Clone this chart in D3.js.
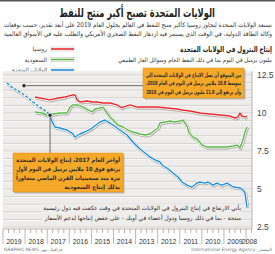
<!DOCTYPE html>
<html>
<head>
<meta charset="utf-8">
<script src="https://cdn.jsdelivr.net/npm/d3@7"></script>
<style>
  body { margin: 0; background: #fff; }
  svg { display: block; font-family: "DejaVu Sans", sans-serif; }
  .rtl { direction: rtl; }
  .num { font-family: "Liberation Sans", Arial, sans-serif; }
</style>
</head>
<body>
<div id="chart"></div>
<script>
const width = 275;
const height = 254;

// years on the axis (time runs right to left)
const years = [2019, 2018, 2017, 2016, 2015, 2014, 2013, 2012, 2011, 2010, 2009, 2008];
const yTicks = [2.5, 5, 7.5, 10, 12.5];

// US production, forecast part (dashed) and actual part, million barrels a day
const usForecastDates = [2019.82, 2019.55, 2019.23, 2018.91, 2018.64, 2018.33, 2018.01, 2017.87];
const usForecast = [11.97, 11.64, 11.38, 11.05, 10.72, 10.39, 10.07, 9.85];
const usDates = [2017.87, 2017.78, 2017.65, 2017.42, 2017.10, 2016.88, 2016.74, 2016.52, 2016.29, 2015.97,
  2015.61, 2015.38, 2015.25, 2015.02, 2014.71, 2014.39, 2014.12, 2013.80, 2013.57, 2013.35, 2013.12,
  2012.90, 2012.81, 2012.58, 2012.31, 2012.08, 2011.90, 2011.67, 2011.45, 2011.22, 2011.09, 2010.86,
  2010.72, 2010.50, 2010.33, 2010.10, 2009.86, 2009.57, 2009.26, 2009.14, 2009.05, 2008.96];
const usValues = [9.85, 9.41, 9.08, 9.01, 8.88, 8.68, 8.42, 8.62, 8.75, 9.01,
  9.41, 9.54, 9.41, 9.21, 8.88, 8.55, 8.09, 7.63, 7.37, 7.11, 6.91,
  6.78, 6.58, 6.38, 6.05, 5.79, 5.46, 5.26, 5.13, 5.39, 5.46, 5.39,
  5.46, 5.26, 5.39, 5.26, 5.39, 5.13, 5.07, 4.93, 4.74, 3.82];

const russiaDates = [2018.55, 2018.33, 2017.87, 2017.51, 2017.19, 2016.88, 2016.74, 2016.65, 2016.52, 2016.20,
  2015.97, 2015.75, 2015.48, 2015.16, 2014.84, 2014.62, 2014.57, 2014.25, 2013.94, 2013.48, 2013.03,
  2012.58, 2012.13, 2011.90, 2011.54, 2011.09, 2010.63, 2010.18, 2009.73, 2009.50, 2009.37, 2009.28,
  2009.19, 2009.05, 2008.96];
const russiaValues = [11.05, 10.99, 10.86, 10.99, 11.05, 11.18, 11.18, 10.86, 10.72, 10.79,
  10.72, 10.72, 10.66, 10.66, 10.53, 10.33, 10.39, 10.53, 10.39, 10.39, 10.39,
  10.33, 10.26, 10.20, 10.13, 10.00, 9.93, 9.87, 9.80, 9.67, 9.74, 10.00,
  9.80, 9.74, 9.80];

const saudiDates = [2018.55, 2018.24, 2018.01, 2017.74, 2017.42, 2017.10, 2016.97, 2016.83, 2016.61, 2016.38,
  2016.15, 2015.97, 2015.84, 2015.61, 2015.48, 2015.29, 2015.16, 2015.02, 2014.80, 2014.57, 2014.34,
  2014.12, 2013.80, 2013.57, 2013.35, 2013.12, 2012.99, 2012.90, 2012.67, 2012.44, 2012.22, 2011.99,
  2011.86, 2011.67, 2011.58, 2011.40, 2011.22, 2010.99, 2010.77, 2010.32, 2009.86, 2009.59, 2009.41,
  2009.28, 2009.14, 2009.05, 2008.96];
const saudiValues = [10.07, 10.00, 9.87, 9.93, 10.00, 10.00, 10.39, 10.53, 10.53, 10.39,
  10.20, 10.07, 10.26, 10.33, 10.39, 10.00, 9.74, 9.54, 9.21, 9.08, 8.88,
  8.75, 8.62, 8.55, 8.62, 8.88, 9.01, 9.34, 9.41, 9.47, 9.41, 9.47,
  9.54, 9.14, 8.68, 8.42, 8.29, 7.89, 7.76, 7.76, 7.76, 7.83, 7.89,
  7.70, 8.22, 8.75, 9.08];

const titleText = "الولايات المتحدة تصبح أكبر منتج للنفط";
const introLines = [
  "تستعد الولايات المتحدة لتجاوز روسيا كأكبر منتج للنفط في العالم بحلول العام 2019 على أبعد تقدير، حسب توقعات",
  "وكالة الطاقة الدولية، في الوقت الذي يستمر فيه ازدهار النفط الصخري الأمريكي والطلب عليه في الأسواق العالمية"
];
const chartTitle = "إنتاج البترول في الولايات المتحدة";
const unitText = "مليون برميل في اليوم بما في ذلك النفط الخام وسوائل الغاز الطبيعي";
const legendNames = ["روسيا", "السعودية", "الولايات المتحدة"];
const legendColors = ["#e8262b", "#5bb847", "#1b8fdd"];
const note1 = [
  "من المتوقع أن يصل الإنتاج في الولايات المتحدة إلى",
  "متوسط 10.8 ملايين برميل في اليوم في العام 2018،",
  "وأن يرتفع إلى 11.8 مليون برميل في اليوم في 2019"
];
const note2 = [
  "أواخر العام 2017، إنتاج الولايات المتحدة",
  "يرتفع فوق 10 ملايين برميل في اليوم لأول",
  "مرة منذ سبعينيات القرن الماضي متجاوزاً",
  "بذلك إنتاج السعودية"
];
const note3 = [
  "يأتي الارتفاع في إنتاج البترول في الولايات المتحدة في وقت عكفت فيه دول رئيسية",
  "منتجة - بما في ذلك روسيا ودول أعضاء في أوبك - على خفض إنتاجها لدعم الأسعار"
];

const svg = d3.select("#chart").append("svg")
  .attr("width", width)
  .attr("height", height);

svg.append("rect").attr("width", width).attr("height", height).attr("fill", "#fff");
svg.append("rect").attr("x", 0).attr("y", 0).attr("width", width).attr("height", 1.5).attr("fill", "#555");

const x = d3.scaleLinear().domain([2020, 2008.73]).range([3, 252]);
const y = d3.scaleLinear().domain([2.5, 12.5]).range([227, 75]);

// arabic text; squeezed horizontally (via a scale on its group) if wider than maxW
function rtlText(g, str, xr, yy, size, weight, fill, maxW, anchor) {
  const wrap = g.append("g").attr("transform", `translate(${xr},${yy})`);
  const t = wrap.append("text")
    .attr("class", "rtl")
    .attr("x", 0).attr("y", 0)
    .attr("text-anchor", anchor || "start")
    .attr("font-size", size)
    .attr("font-weight", weight || "normal")
    .attr("fill", fill || "#222")
    .text(str);
  const w = t.node().getComputedTextLength();
  if (maxW && w > maxW) {
    wrap.attr("transform", `translate(${xr},${yy}) scale(${maxW / w},1)`);
  }
  return t;
}

rtlText(svg, titleText, 137, 17, 12.5, "bold", "#222", 156, "middle");
introLines.forEach((s, i) => rtlText(svg, s, 272, 27 + i * 9, 6.4, "normal", "#333", 268));
rtlText(svg, chartTitle, 272, 52, 8, "bold", "#222", 92);
rtlText(svg, unitText, 272, 62, 5.8, "normal", "#333", 154);

// legend
const legend = svg.append("g");
legendNames.forEach((n, i) => {
  const ly = 49 + i * 10.5;
  rtlText(legend, n, 47, ly + 2, 6, "normal", "#444", 35);
  legend.append("line").attr("x1", 50).attr("x2", 75).attr("y1", ly).attr("y2", ly)
    .attr("stroke", "#bbb").attr("stroke-width", 4.5);
  legend.append("line").attr("x1", 50).attr("x2", 75).attr("y1", ly).attr("y2", ly)
    .attr("stroke", "#fff").attr("stroke-width", 3.5);
  legend.append("line").attr("x1", 51).attr("x2", 74).attr("y1", ly).attr("y2", ly)
    .attr("stroke", legendColors[i]).attr("stroke-width", 1.6);
});

// plot background and grid
const plot = svg.append("g");
plot.append("rect")
  .attr("x", x(2020)).attr("y", y(12.75))
  .attr("width", x(2008.73) - x(2020)).attr("height", y(2.5) - y(12.75) + 2)
  .attr("fill", "#efedeb");

const gridVals = d3.range(2.5, 12.51, 0.5);
plot.selectAll(".gw").data(gridVals).enter().append("line")
  .attr("x1", x(2020)).attr("x2", x(2008.73))
  .attr("y1", d => y(d) + 0.8).attr("y2", d => y(d) + 0.8)
  .attr("stroke", "#fff").attr("stroke-width", 0.8);
plot.selectAll(".gl").data(gridVals).enter().append("line")
  .attr("x1", x(2020)).attr("x2", x(2008.73))
  .attr("y1", d => y(d)).attr("y2", d => y(d))
  .attr("stroke", "#c9c6c3").attr("stroke-width", 0.7);

// right border
plot.append("line").attr("x1", x(2008.73)).attr("x2", x(2008.73))
  .attr("y1", y(12.75)).attr("y2", y(2.5) + 2)
  .attr("stroke", "#999").attr("stroke-width", 0.7);

// y labels
svg.selectAll(".ylab").data(yTicks).enter().append("text")
  .attr("class", "num")
  .attr("x", 257).attr("y", d => y(d) + 3)
  .attr("font-size", 8.5).attr("fill", "#444")
  .text(d => d);

// x axis: quarterly ticks, year separators
const axisY = y(2.5) + 2;
svg.append("line").attr("x1", x(2020)).attr("x2", x(2008.73))
  .attr("y1", axisY).attr("y2", axisY).attr("stroke", "#999").attr("stroke-width", 0.6);
const quarters = d3.range(2008.75, 2020.01, 0.25);
svg.selectAll(".qt").data(quarters).enter().append("line")
  .attr("x1", d => x(d)).attr("x2", d => x(d))
  .attr("y1", axisY).attr("y2", d => Number.isInteger(d) ? axisY + 15 : axisY + 4)
  .attr("stroke", "#888").attr("stroke-width", 0.6);
svg.selectAll(".yr").data(years).enter().append("text")
  .attr("class", "num")
  .attr("x", d => Math.min(x(d + 0.5), 249.5))
  .attr("y", 244)
  .attr("text-anchor", "middle")
  .attr("font-size", 6.9)
  .attr("fill", "#333")
  .text(d => d);

// lines
const line = d3.line().x(d => x(d[0])).y(d => y(d[1]));
function drawSeries(dates, vals, color, dashed) {
  const pts = dates.map((d, i) => [d, vals[i]]);
  plot.append("path").datum(pts).attr("d", line)
    .attr("fill", "none").attr("stroke", "#b5b2ae").attr("stroke-width", 3.6)
    .attr("stroke-linejoin", "round").attr("transform", "translate(0.6,0.8)");
  plot.append("path").datum(pts).attr("d", line)
    .attr("fill", "none").attr("stroke", "#fff").attr("stroke-width", 3)
    .attr("stroke-linejoin", "round");
  plot.append("path").datum(pts).attr("d", line)
    .attr("fill", "none").attr("stroke", color).attr("stroke-width", 1.4)
    .attr("stroke-linejoin", "round")
    .attr("stroke-dasharray", dashed ? "3,1.5" : null);
}
drawSeries(russiaDates, russiaValues, legendColors[0]);
drawSeries(saudiDates, saudiValues, legendColors[1]);
drawSeries(usDates, usValues, legendColors[2]);
drawSeries(usForecastDates, usForecast, legendColors[2], true);

// notes
function noteBox(bx, by, bw, bh, lines, lh) {
  svg.append("rect").attr("x", bx + 1.5).attr("y", by + 1.5).attr("width", bw).attr("height", bh)
    .attr("fill", "#9a9590").attr("opacity", 0.6);
  svg.append("rect").attr("x", bx).attr("y", by).attr("width", bw).attr("height", bh)
    .attr("fill", "#f6a829").attr("stroke", "#d98c12").attr("stroke-width", 0.5);
  lines.forEach((s, i) => rtlText(svg, s, bx + bw - 3, by + 8.5 + i * lh, 5.8, "bold", "#2a2a2a", bw - 6));
}

// annotation leaders
const dot1 = [2019.05, 11.8];
const dot2 = [usForecastDates[usForecastDates.length - 1], usForecast[usForecast.length - 1]];
svg.append("line").attr("x1", x(dot1[0])).attr("x2", 143).attr("y1", y(dot1[1])).attr("y2", y(dot1[1]))
  .attr("stroke", "#333").attr("stroke-width", 0.7);
svg.append("line").attr("x1", x(dot2[0])).attr("x2", x(dot2[0])).attr("y1", y(dot2[1])).attr("y2", 153)
  .attr("stroke", "#333").attr("stroke-width", 0.7);
svg.selectAll(".dot").data([dot1, dot2]).enter().append("circle")
  .attr("cx", d => x(d[0])).attr("cy", d => y(d[1])).attr("r", 2)
  .attr("fill", "#222").attr("stroke", "#fff").attr("stroke-width", 0.6);

noteBox(143, 68, 101, 30, note1, 8.8);
noteBox(13, 153, 110, 39, note2, 9);

note3.forEach((s, i) => {
  svg.append("rect").attr("x", 42).attr("y", 204 + i * 9.5).attr("width", 199).attr("height", 8)
    .attr("fill", "#efedeb");
  rtlText(svg, s, 241, 210 + i * 9.5, 5.8, "normal", "#2a2a2a", 198);
});

// footer
svg.append("text").attr("x", 4).attr("y", 251).attr("font-size", 4.5).attr("fill", "#777")
  .text("GRAPHIC NEWS جرافيك نيوز");
rtlText(svg, "المصدر: International Energy Agency", 272, 251, 4.5, "normal", "#777", 82);
</script>
</body>
</html>
